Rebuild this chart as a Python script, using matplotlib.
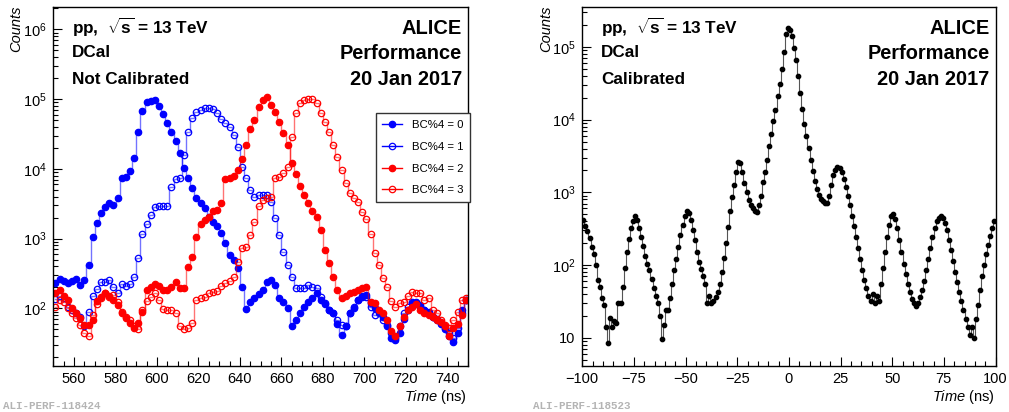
import numpy as np
import matplotlib
matplotlib.use('Agg')
import matplotlib.pyplot as plt
from matplotlib.ticker import MultipleLocator, LogLocator, FuncFormatter, NullFormatter

plt.rcParams['font.family'] = ['Liberation Sans', 'DejaVu Sans']
plt.rcParams['mathtext.fontset'] = 'custom'
plt.rcParams['mathtext.rm'] = 'Liberation Sans'
plt.rcParams['mathtext.it'] = 'Liberation Sans:italic'
plt.rcParams['mathtext.bf'] = 'Liberation Sans:bold'

# ---- not calibrated: time per bunch-crossing phase, 2 ns bins 550-750 ns
time_raw = np.arange(551, 750, 2)
bc0 = [231, 263, 245, 233, 249, 261, 216, 255, 425, 1040,
       1690, 2350, 2870, 3270, 3000, 3780, 7380, 7540, 9400, 14100,
       33400, 67400, 89800, 94000, 96800, 79400, 60300, 44900, 34000, 25000,
       17000, 10200, 7300, 5250, 3780, 3200, 2720, 2020, 1750, 1530,
       1190, 855, 580, 492, 374, 204, 97, 124, 140, 159,
       183, 240, 255, 216, 139, 124, 100, 55, 68, 85,
       103, 124, 142, 164, 132, 115, 95, 85, 60, 42,
       55, 85, 100, 130, 150, 155, 120, 100, 90, 75,
       55, 38, 35, 45, 70, 95, 120, 125, 110, 95,
       90, 75, 70, 60, 50, 40, 33, 45, 95, 130]
bc1 = [135, 150, 139, 105, 95, 85, 76, 55, 90, 150,
       190, 236, 241, 255, 204, 164, 223, 209, 223, 284,
       521, 1160, 1640, 2180, 2870, 2930, 2930, 2930, 5540, 7100,
       7500, 15700, 34000, 53000, 65900, 69700, 73600, 73600, 71300, 62500,
       51300, 45800, 40200, 30500, 20800, 10800, 7300, 4960, 3900, 4210,
       4210, 4210, 3300, 1950, 1120, 647, 418, 284, 194, 194,
       194, 216, 204, 194, 147, 120, 95, 85, 68, 58,
       55, 85, 105, 132, 147, 147, 105, 80, 85, 68,
       58, 45, 38, 55, 85, 105, 124, 120, 105, 95,
       85, 76, 68, 62, 52, 45, 38, 52, 85, 132]
bc2 = [167, 182, 150, 131, 100, 85, 72, 58, 58, 68,
       127, 143, 164, 150, 132, 111, 85, 72, 62, 52,
       62, 90, 183, 204, 223, 209, 183, 183, 204, 238,
       194, 194, 395, 550, 1060, 1620, 1850, 2060, 2510, 2560,
       3270, 7080, 7300, 7880, 9620, 14000, 22000, 37000, 50000, 78000,
       96800, 106000, 82200, 65900, 47400, 32300, 21900, 12000, 8400, 5660,
       4210, 3200, 2510, 2020, 1330, 685, 451, 284, 183, 139,
       150, 164, 173, 183, 194, 204, 124, 120, 95, 85,
       68, 48, 40, 55, 76, 95, 105, 115, 95, 85,
       80, 76, 68, 63, 55, 40, 52, 60, 80, 130]
bc3 = [105, 131, 124, 100, 85, 72, 58, 44, 40, 80,
       115, 139, 164, 147, 155, 124, 90, 76, 68, 55,
       50, 95, 128, 147, 164, 132, 97, 95, 95, 85,
       55, 50, 52, 62, 132, 139, 147, 164, 173, 178,
       209, 228, 250, 284, 466, 724, 765, 1120, 1750, 2930,
       3570, 3780, 3900, 7300, 7550, 8600, 10700, 28800, 62500, 88700,
       96800, 100000, 100000, 87000, 62500, 47400, 34000, 21900, 14900, 9620,
       6310, 4460, 3780, 3380, 2430, 1890, 1160, 626, 418, 269,
       204, 127, 105, 120, 124, 150, 173, 168, 164, 132,
       139, 95, 85, 68, 58, 52, 68, 90, 132, 140]
bc_labels = ['BC%4 = 0', 'BC%4 = 1', 'BC%4 = 2', 'BC%4 = 3']

# ---- calibrated: 1 ns bins -100..100 ns
time_cal = np.arange(-99.5, 100, 1.0)
counts_cal = [415, 350, 290, 235, 180, 140, 100, 62, 50, 35,
              28, 14, 8.5, 19, 14, 17, 16, 30, 30, 50,
              90, 150, 230, 320, 410, 470, 420, 320, 240, 185,
              135, 105, 85, 65, 48, 38, 30, 20, 9.5, 15,
              24, 24, 35, 55, 85, 120, 180, 260, 360, 470,
              550, 520, 420, 300, 220, 150, 110, 88, 70, 55,
              30, 38, 30, 32, 37, 42, 55, 80, 125, 200,
              330, 550, 850, 1250, 1900, 2600, 2500, 1900, 1350, 1000,
              780, 660, 600, 560, 540, 680, 900, 1380, 1900, 2800,
              4300, 6300, 9500, 13500, 21000, 31000, 50000, 85000, 150000, 180000,
              170000, 140000, 98000, 66000, 40000, 23000, 14000, 8800, 6000, 4100,
              2800, 1970, 1420, 1100, 910, 810, 750, 710, 720, 880,
              1250, 1750, 2050, 2200, 2150, 1900, 1550, 1200, 900, 660,
              480, 340, 240, 170, 120, 85, 62, 48, 38, 32,
              40, 30, 38, 32, 55, 90, 150, 240, 360, 480,
              510, 430, 320, 220, 150, 105, 75, 55, 42, 34,
              30, 27, 30, 36, 45, 60, 85, 120, 170, 240,
              320, 400, 450, 470, 440, 380, 300, 220, 160, 115,
              80, 58, 42, 32, 24, 18, 14, 11, 14, 10,
              18, 28, 45, 70, 100, 140, 190, 250, 320, 400]

W, H = 1009, 412
fig = plt.figure(figsize=(W / 100, H / 100), dpi=100)


def px_axes(x0, y0, x1, y1):
    return fig.add_axes([x0 / W, 1 - y1 / H, (x1 - x0) / W, (y1 - y0) / H])


def log_label(v, pos):
    e = int(round(np.log10(v)))
    if e == 1:
        return '10'
    return r'$10^{%d}$' % e


def style(ax, xmajor, xminor):
    ax.set_yscale('log')
    ax.xaxis.set_major_locator(MultipleLocator(xmajor))
    ax.xaxis.set_minor_locator(MultipleLocator(xminor))
    ax.yaxis.set_major_locator(LogLocator(base=10))
    ax.yaxis.set_minor_locator(LogLocator(base=10, subs=np.arange(2, 10)))
    ax.yaxis.set_major_formatter(FuncFormatter(log_label))
    ax.yaxis.set_minor_formatter(NullFormatter())
    ax.tick_params(which='both', direction='in', top=False, right=False,
                   labelsize=10.5, width=0.8)
    ax.tick_params(which='major', length=6.8)
    ax.tick_params(which='minor', length=3.4)
    ax.tick_params(axis='x', pad=4)
    ax.tick_params(axis='y', pad=5)
    for sp in ax.spines.values():
        sp.set_linewidth(1.0)


ax1 = px_axes(53.3, 7.3, 468, 366)
ax2 = px_axes(582.3, 7.3, 995.5, 366)

# left: four BC phases, step histogram + markers
series = [(bc0, 'blue', 'blue'), (bc1, 'blue', 'none'),
          (bc2, 'red', 'red'), (bc3, 'red', 'none')]
for vals, c, fc in series:
    ax1.plot(time_raw, vals, drawstyle='steps-mid', color=c, lw=1.0, alpha=0.55)
    ax1.plot(time_raw, vals, ls='none', marker='o', ms=4.6, mfc=fc, mec=c, mew=0.9)
handles = [plt.Line2D([], [], color=c, lw=1.0, marker='o', ms=4.6, mfc=fc, mec=c, mew=0.9)
           for _, c, fc in series]
leg = ax1.legend(handles, bc_labels, loc='upper left', bbox_to_anchor=(0.777, 0.706),
                 borderaxespad=0, fontsize=8.2, handlelength=1.7, handletextpad=0.9,
                 labelspacing=1.05, borderpad=0.6, fancybox=False, framealpha=1,
                 edgecolor='#333333', numpoints=1)
leg.get_frame().set_linewidth(1.0)

ax1.set_xlim(550, 750)
ax1.set_ylim(14.9, 2.07e6)
style(ax1, 20, 5)

# right: calibrated
ax2.plot(time_cal, counts_cal, drawstyle='steps-mid', color='#555555', lw=0.8)
ax2.plot(time_cal, counts_cal, ls='none', marker='o', ms=3.1, color='black')
ax2.set_xlim(-100, 100)
ax2.set_ylim(4.1, 3.5e5)
style(ax2, 25, 5)

bold = dict(fontsize=12.3, fontweight='bold', va='center', ha='left')
big = dict(fontsize=14.4, fontweight='bold', va='center', ha='right')
for ax, state in [(ax1, 'Not Calibrated'), (ax2, 'Calibrated')]:
    ax.text(0.045, 0.945, r'pp,  $\sqrt{\mathbf{s}}$ = 13 TeV', transform=ax.transAxes, **bold)
    ax.text(0.045, 0.874, 'DCal', transform=ax.transAxes, **bold)
    ax.text(0.045, 0.800, state, transform=ax.transAxes, **bold)
    ax.text(0.985, 0.94, 'ALICE', transform=ax.transAxes, **big)
    ax.text(0.985, 0.87, 'Performance', transform=ax.transAxes, **big)
    ax.text(0.985, 0.80, '20 Jan 2017', transform=ax.transAxes, **big)

# axis titles and figure ids
for x_count, x_time, tag, x_tag in [(16, 467, 'ALI-PERF-118424', 3),
                                     (546, 995, 'ALI-PERF-118523', 533)]:
    fig.text(x_count / W, 1 - 5 / H, 'Counts', rotation=90, style='italic',
             fontsize=10.5, ha='center', va='top')
    fig.text(x_time / W, 1 - 397 / H, r'$\it{Time}$ (ns)', fontsize=10.5,
             ha='right', va='center')
    fig.text(x_tag / W, 1 - 406 / H, tag, family='Liberation Mono', fontweight='bold',
             fontsize=7.8, color='#b4b4b4', ha='left', va='center')

fig.savefig('out.png', dpi=100)
